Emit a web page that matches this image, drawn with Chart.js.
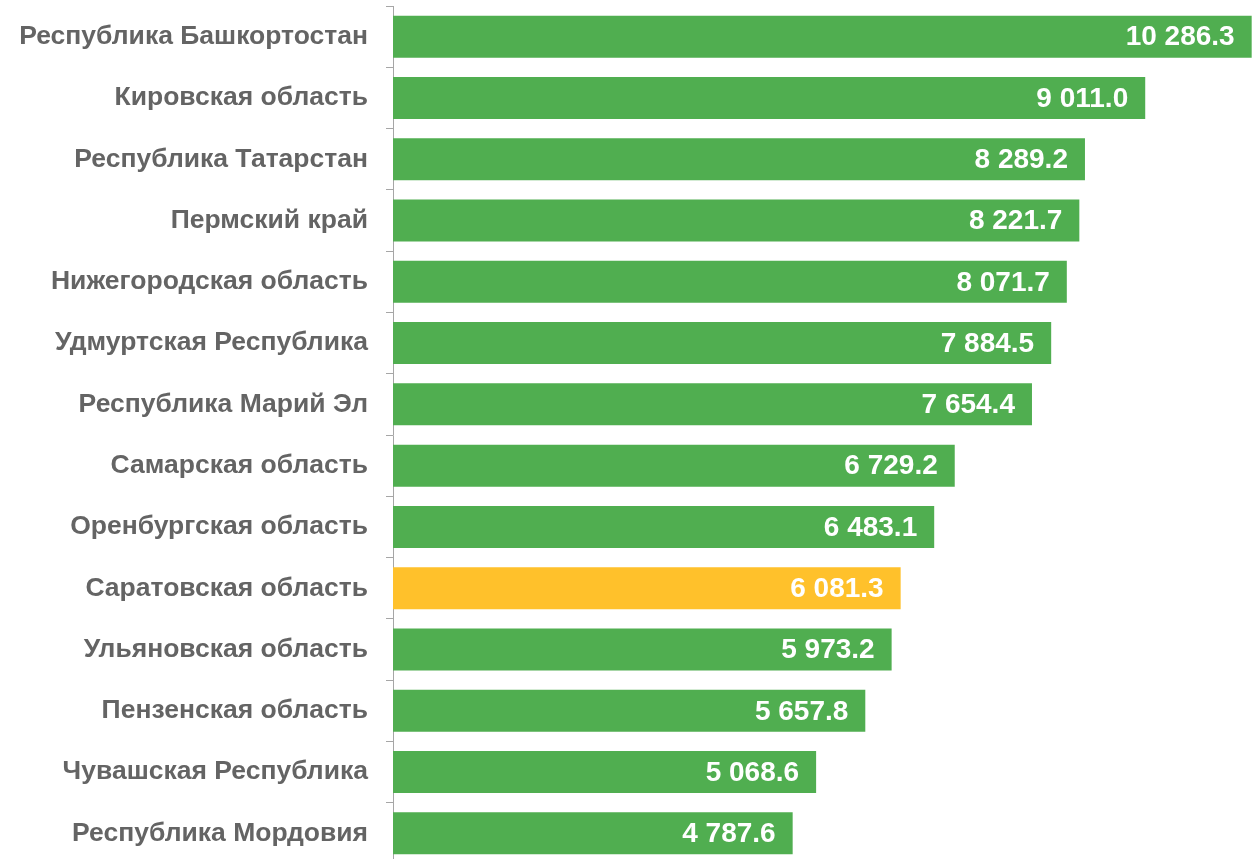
<!DOCTYPE html>
<html>
<head>
<meta charset="utf-8">
<script src="https://cdn.jsdelivr.net/npm/chart.js@4"></script>
<style>
  body { margin: 0; overflow: hidden; background: #fff; }
</style>
</head>
<body>
<canvas id="regionsChart" width="1258" height="866"></canvas>
<script>
// DATA

const regions = [
  "Республика Башкортостан",
  "Кировская область",
  "Республика Татарстан",
  "Пермский край",
  "Нижегородская область",
  "Удмуртская Республика",
  "Республика Марий Эл",
  "Самарская область",
  "Оренбургская область",
  "Саратовская область",
  "Ульяновская область",
  "Пензенская область",
  "Чувашская Республика",
  "Республика Мордовия"
];

const values = [10286.3, 9011.0, 8289.2, 8221.7, 8071.7, 7884.5, 7654.4, 6729.2, 6483.1, 6081.3, 5973.2, 5657.8, 5068.6, 4787.6];

const highlightRegion = "Саратовская область";

// COLOURS

const green = "#50AE50";
const yellow = "#FFC12B";
const barColors = regions.map(r => r === highlightRegion ? yellow : green);

const fontFamily = "Arial, 'Liberation Sans', sans-serif";

// number format: "10 286.3"
function formatValue(v) {
  const parts = v.toFixed(1).split(".");
  parts[0] = parts[0].replace(/\B(?=(\d{3})+(?!\d))/g, " ");
  return parts.join(".");
}

// VALUE LABELS PLUGIN

const valueLabels = {
  id: "valueLabels",
  afterDatasetsDraw(chart) {
    const ctx = chart.ctx;
    const meta = chart.getDatasetMeta(0);
    ctx.save();
    ctx.font = "bold 28px " + fontFamily;
    ctx.fillStyle = "#ffffff";
    ctx.textAlign = "right";
    ctx.textBaseline = "middle";
    meta.data.forEach((bar, i) => {
      ctx.fillText(formatValue(values[i]), bar.x - 17, bar.y + 1);
    });
    ctx.restore();
  }
};

// CHART

const ctx = document.getElementById("regionsChart").getContext("2d");

new Chart(ctx, {
  type: "bar",
  data: {
    labels: regions,
    datasets: [{
      data: values,
      backgroundColor: barColors,
      borderWidth: 0,
      categoryPercentage: 1,
      barPercentage: 0.685
    }]
  },
  options: {
    indexAxis: "y",
    responsive: false,
    animation: false,
    layout: { padding: { top: 6, bottom: 2, right: 1, left: 0 } },
    plugins: {
      legend: { display: false },
      tooltip: { enabled: false }
    },
    scales: {
      x: {
        display: false,
        min: 0,
        max: 10350
      },
      y: {
        afterFit(scale) {
          scale.width = 393;
          scale.paddingTop = 0;
          scale.paddingBottom = 0;
        },
        grid: {
          drawOnChartArea: false,
          tickLength: 7,
          color: "#a6a6a6"
        },
        border: { color: "#a6a6a6", width: 1 },
        ticks: {
          padding: 18,
          color: "#646464",
          font: { family: fontFamily, size: 26.5, weight: "bold" }
        }
      }
    }
  },
  plugins: [valueLabels]
});
</script>
</body>
</html>
